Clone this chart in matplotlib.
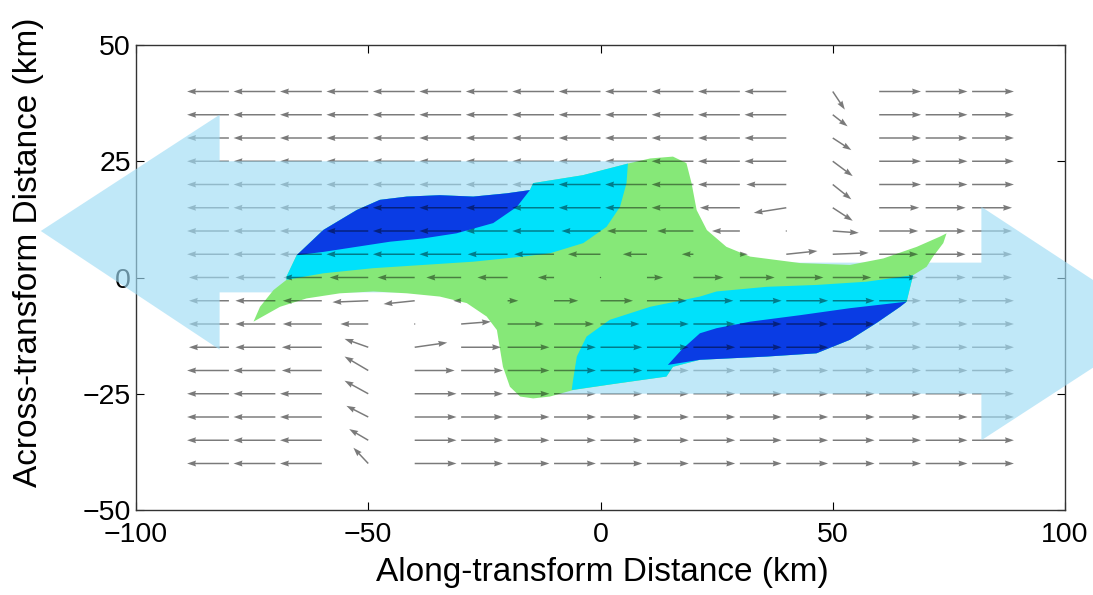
import matplotlib
matplotlib.use("Agg")
import matplotlib.pyplot as plt
import numpy as np
from matplotlib.patches import Polygon

plt.rcParams["font.family"] = ["Liberation Sans", "DejaVu Sans"]

# grid of the velocity arrows (km)
x_grid = [-80, -70, -60, -50, -40, -30, -20, -10, 0, 10, 20, 30, 40, 50, 60, 70, 80]
y_grid = [40, 35, 30, 25, 20, 15, 10, 5, 0, -5, -10, -15, -20, -25, -30, -35, -40]

# along-transform component, one row per y_grid value
u_rows = [
    [-9, -9, -9, -9, -9, -9, -9, -9, -9, -9, -9, -9, -9, 2.6, 9, 9, 9],
    [-9, -9, -9, -9, -9, -9, -9, -9, -9, -9, -9, -9, -9, 3.2, 9, 9, 9],
    [-9, -9, -9, -9, -9, -9, -9, -9, -9, -9, -9, -9, -9, 4.0, 9, 9, 9],
    [-9, -9, -9, -9, -9, -9, -9, -9, -9, -9, -9, -9, -9, 4.3, 9, 9, 9],
    [-9, -9, -9, -9, -9, -9, -9, -9, -9, -9, -9, -9, -8.6, 4.0, 9, 9, 9],
    [-9, -9, -9, -9, -9, -9, -9, -9, -9, -9, -9, -8.6, -7, 4.3, 8.6, 8.6, 8.6],
    [-9, -9, -9, -9, -9, -9, -9, -9, -8.4, -8.6, -7.8, -6, 0.3, 5.6, 8.4, 8.6, 8.6],
    [-9, -9, -9, -9, -9, -9, -8.6, -8.6, -7, -5.2, -2.5, 1.7, 6.7, 7.7, 8.4, 8.6, 8.6],
    [-8.6, -8.6, -8.3, -8.3, -8, -7.5, -6.5, -3.5, 0.2, 3.5, 6.5, 7.5, 8, 8.3, 8.3, 8.6, 8.6],
    [-8.6, -8.6, -8.4, -7.7, -6.7, -1.7, 2.3, 5.2, 7, 8.6, 8.6, 9, 9, 9, 9, 9, 9],
    [-8.6, -8.6, -8.4, -6, 0.3, 6.4, 7.8, 8.6, 8.4, 9, 9, 9, 9, 9, 9, 9, 9],
    [-8.6, -8.6, -8.6, -5.1, 7, 8.6, 9, 9, 9, 9, 9, 9, 9, 9, 9, 9, 9],
    [-9, -9, -8.6, -5.1, 8.6, 9, 9, 9, 9, 9, 9, 9, 9, 9, 9, 9, 9],
    [-9, -9, -9, -5.1, 9, 9, 9, 9, 9, 9, 9, 9, 9, 9, 9, 9, 9],
    [-9, -9, -9, -4.7, 9, 9, 9, 9, 9, 9, 9, 9, 9, 9, 9, 9, 9],
    [-9, -9, -9, -4.1, 9, 9, 9, 9, 9, 9, 9, 9, 9, 9, 9, 9, 9],
    [-9, -9, -9, -3.2, 9, 9, 9, 9, 9, 9, 9, 9, 9, 9, 9, 9, 9],
]

# across-transform component
v_rows = [
    [0, 0, 0, 0, 0, 0, 0, 0, 0, 0, 0, 0, 0, -3.9, 0, 0, 0],
    [0, 0, 0, 0, 0, 0, 0, 0, 0, 0, 0, 0, 0, -2.5, 0, 0, 0],
    [0, 0, 0, 0, 0, 0, 0, 0, 0, 0, 0, 0, 0, -2.6, 0, 0, 0],
    [0, 0, 0, 0, 0, 0, 0, 0, 0, 0, 0, 0, 0, -3.2, 0, 0, 0],
    [0, 0, 0, 0, 0, 0, 0, 0, 0, 0, 0, 0, 0, -3.2, 0, 0, 0],
    [0, 0, 0, 0, 0, 0, 0, 0, 0, 0, 0, 0, -1.1, -2.8, 0, 0, 0],
    [0, 0, 0, 0, 0, 0, 0, 0, 0, 0, 0, 0, 0, -0.4, 0, 0, 0],
    [0, 0, 0, 0, 0, 0, 0, 0, 0, 0, 0, 0, 0.7, 0.3, 0, 0, 0],
    [0, 0, 0, 0, 0, 0, 0, 0, 0, 0, 0, 0, 0, 0, 0, 0, 0],
    [0, 0, 0, -0.3, -0.7, 0, 0, 0, 0, 0, 0, 0, 0, 0, 0, 0, 0],
    [0, 0, 0, 0, 0, 0.5, 0, 0, 0, 0, 0, 0, 0, 0, 0, 0, 0],
    [0, 0, 0, 1.8, 1.0, 0, 0, 0, 0, 0, 0, 0, 0, 0, 0, 0, 0],
    [0, 0, 0, 3.0, 0, 0, 0, 0, 0, 0, 0, 0, 0, 0, 0, 0, 0],
    [0, 0, 0, 2.8, 0, 0, 0, 0, 0, 0, 0, 0, 0, 0, 0, 0, 0],
    [0, 0, 0, 2.4, 0, 0, 0, 0, 0, 0, 0, 0, 0, 0, 0, 0, 0],
    [0, 0, 0, 2.4, 0, 0, 0, 0, 0, 0, 0, 0, 0, 0, 0, 0, 0],
    [0, 0, 0, 3.4, 0, 0, 0, 0, 0, 0, 0, 0, 0, 0, 0, 0, 0],
]

# outer outline of the coloured zone (green level)
green_outline = [
    (-74.7, -9.5), (-73.3, -6.3), (-70.4, -2.7), (-67.6, -0.5), (-67.6, 0.2),
    (-65.4, 4.8), (-59.7, 10.2), (-52.5, 14.5), (-47.5, 16.7), (-41.7, 17.4),
    (-34.6, 17.7), (-27.4, 17.4), (-20.2, 18.1), (-15.2, 18.8), (-14.5, 20.3),
    (-3.8, 22.0), (5.9, 24.5), (10.7, 25.6), (15.6, 26.0), (18.5, 24.6),
    (19.6, 20.3), (20.7, 14.5), (22.9, 10.2), (27.1, 6.6), (32.2, 4.5),
    (43.0, 3.1), (53.7, 2.7), (60.9, 4.1), (68.1, 6.6), (73.1, 8.8),
    (74.5, 9.5), (73.8, 7.4), (71.6, 4.5), (70.2, 2.3), (67.3, 0.5),
    (65.9, -5.2), (64.5, -6.3), (59.4, -9.8), (53.7, -13.4), (46.5, -16.3),
    (35.8, -17.0), (21.4, -17.7), (15.6, -19.2), (14.2, -21.3), (3.5, -22.8),
    (-5.9, -24.2), (-10.9, -25.6), (-14.5, -26.0), (-17.3, -25.6), (-19.5, -23.5),
    (-21.0, -19.2), (-21.6, -15.6), (-22.3, -11.3), (-24.5, -8.4), (-28.8, -5.5),
    (-34.6, -4.1), (-41.7, -3.4), (-48.9, -3.0), (-56.1, -3.4), (-63.3, -4.5),
    (-69.0, -6.3), (-74.0, -9.1),
]

cyan_upper = [
    (-67.6, -0.5), (-67.6, 0.2), (-65.4, 4.8), (-59.7, 10.2), (-52.5, 14.5),
    (-47.5, 16.7), (-41.7, 17.4), (-34.6, 17.7), (-27.4, 17.4), (-20.2, 18.1),
    (-15.2, 18.8), (-14.5, 20.3), (-3.8, 22.0), (5.9, 24.5), (5.6, 20.3),
    (4.2, 15.2), (1.3, 10.9), (-3.7, 7.4), (-10.9, 5.2), (-16.7, 4.5),
    (-27.4, 3.4), (-38.2, 2.7), (-49.0, 2.0), (-59.7, 0.9),
]

cyan_lower = [
    (67.3, 0.5), (57.3, -0.9), (46.5, -1.6), (35.8, -2.0), (25.0, -3.0),
    (21.4, -4.1), (10.7, -6.3), (2.0, -9.1), (-3.0, -12.7), (-5.1, -17.0),
    (-5.9, -22.0), (-6.2, -24.2), (3.5, -22.8), (14.2, -21.3), (15.6, -19.2),
    (21.4, -17.7), (35.8, -17.0), (46.5, -16.3), (53.7, -13.4), (59.4, -9.8),
    (64.5, -6.3), (65.9, -5.2),
]

blue_upper = [
    (-65.4, 4.8), (-59.7, 10.2), (-52.5, 14.5), (-47.5, 16.7), (-41.7, 17.4),
    (-34.6, 17.7), (-27.4, 17.4), (-20.2, 18.1), (-15.2, 18.8), (-18.0, 15.2),
    (-23.1, 11.7), (-31.0, 9.5), (-38.2, 8.4), (-45.3, 7.7), (-52.5, 6.6),
    (-59.7, 5.5),
]

blue_lower = [
    (65.9, -5.2), (53.7, -6.6), (43.0, -8.1), (32.2, -9.5), (25.0, -10.9),
    (21.4, -12.0), (17.5, -15.5), (14.5, -18.8), (21.4, -17.7), (35.8, -17.0),
    (46.5, -16.3), (53.7, -13.4), (59.4, -9.8), (64.5, -6.3),
]

# the two big plate-motion arrows
left_plate_arrow = [(15, 25), (-82, 25), (-82, 35), (-120.5, 10), (-82, -15.5), (-82, -3.2), (15, -3.2)]
right_plate_arrow = [(-15, -25), (82, -25), (82, -35), (120.5, -10), (82, 15.2), (82, 3.2), (-15, 3.2)]

GREEN = "#86e878"
CYAN = "#00e1fb"
BLUE = "#0a3ce4"
PLATE = "#9fdcf5"

fig = plt.figure(figsize=(10.93, 5.95), dpi=100)
ax = fig.add_axes([136 / 1093, 85 / 595, 929 / 1093, 465 / 595])

X, Y = np.meshgrid(x_grid, y_grid)
U = np.array(u_rows)
V = np.array(v_rows)

qkw = dict(angles="xy", scale_units="xy", scale=1, pivot="tail",
           width=0.0016, headwidth=4, headlength=6, headaxislength=5.5)

ax.quiver(X, Y, U, V, color="#7a7a7a", zorder=1, **qkw)

for pts in (left_plate_arrow, right_plate_arrow):
    ax.add_patch(Polygon(pts, closed=True, facecolor=PLATE, edgecolor="none",
                         alpha=0.65, zorder=3, clip_on=False))

green_patch = Polygon(green_outline, closed=True, facecolor=GREEN, edgecolor="none", zorder=4)
ax.add_patch(green_patch)
for pts in (cyan_upper, cyan_lower):
    ax.add_patch(Polygon(pts, closed=True, facecolor=CYAN, edgecolor="none", zorder=4.1))
for pts in (blue_upper, blue_lower):
    ax.add_patch(Polygon(pts, closed=True, facecolor=BLUE, edgecolor="none", zorder=4.2))

# arrows seen through the coloured zone
q2 = ax.quiver(X, Y, U, V, color="black", alpha=0.45, zorder=5, **qkw)
q2.set_clip_path(green_patch)

ax.set_xlim(-100, 100)
ax.set_ylim(-50, 50)
ax.set_xticks([-100, -50, 0, 50, 100])
ax.set_yticks([-50, -25, 0, 25, 50])
ax.tick_params(direction="in", top=True, right=True, length=6, width=0.8,
               labelsize=20.5, colors="black")
ax.tick_params(axis="x", pad=9)
for s in ax.spines.values():
    s.set_linewidth(1.0)
    s.set_color("#333333")

ax.set_xlabel("Along-transform Distance (km)", fontsize=24)
ax.set_ylabel("Across-transform Distance (km)", fontsize=24)
ax.xaxis.set_label_coords(0.502, -0.1)
ax.yaxis.set_label_coords(-0.099, 0.555)

fig.savefig("out.png", dpi=100)
